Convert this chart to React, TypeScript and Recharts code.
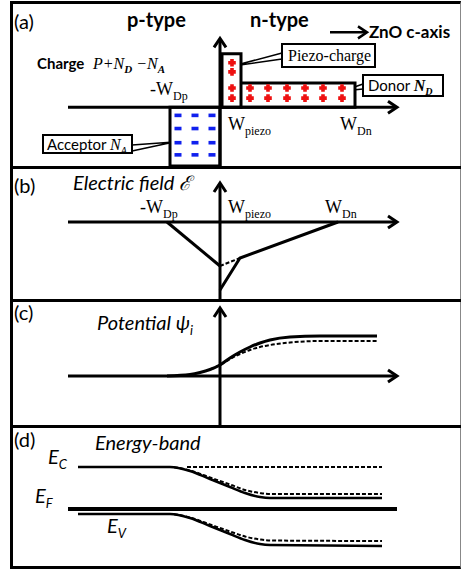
import React from 'react';
import { ComposedChart, XAxis, YAxis, Line, Scatter, ReferenceArea, ReferenceLine } from 'recharts';

const SANS = "Lato, 'Open Sans', sans-serif";
const SERIF = "'Liberation Serif', 'Times New Roman', serif";

// shared horizontal position scale (diagram units, x = 0 at the junction)
const X_DOMAIN: [number, number] = [-21, 24];
const AXIS_START = -15.2;
const AXIS_END = 17.7;

// (a) charge blocks: [x1, x2, y1, y2]
const acceptorBlock = [-5.0, 0, -5.8, 0];
const donorBlock = [0.2, 13.5, 0, 2.4];
const piezoBlock = [0.2, 2.1, 0, 5.3];
const donorDotX = [1.2, 3.0, 4.8, 6.7, 8.5, 10.3, 12.2];
const donorDotY = [1.9, 0.9];
const piezoDotX = [1.2];
const piezoDotY = [4.4, 3.5];
const acceptorDashX = [-4.2, -2.5, -0.8];
const acceptorDashY = [-0.8, -2.1, -3.5, -4.7];

// (b) electric field
const fieldP = [{ x: -5.3, y: 0 }, { x: 0, y: -4.4 }];
const fieldN = [{ x: 0, y: -6.8 }, { x: 2.0, y: -3.6 }, { x: 11.8, y: 0 }];
const fieldNoPiezo = [{ x: 0, y: -4.4 }, { x: 2.0, y: -3.6 }];

// (c) potential
const potX = [-5.3, -3, -2, -1, 0, 1, 2, 3, 4, 5, 7, 10, 15.7];
const potSolid = [0, 0.15, 0.35, 0.65, 1.1, 1.8, 2.4, 2.9, 3.3, 3.6, 3.9, 4.0, 4.0];
const potDashed = [0, 0.15, 0.35, 0.65, 1.1, 1.7, 2.2, 2.6, 2.9, 3.1, 3.35, 3.5, 3.5];

// (d) energy bands
const bandX = [-14.2, -5.0, -3.0, -1.0, 1.0, 2.5, 4.0, 5.0, 16.2];
const ecSolid = [4.2, 4.2, 3.8, 3.0, 2.2, 1.6, 1.2, 1.1, 1.1];
const ecDashed = [4.2, 4.2, 3.85, 3.15, 2.45, 1.9, 1.6, 1.5, 1.5];
const evSolid = [-0.5, -0.5, -0.9, -1.7, -2.5, -3.1, -3.5, -3.6, -3.7];
const evDashed = [-0.5, -0.5, -0.85, -1.55, -2.25, -2.75, -3.05, -3.15, -3.2];
const ecFlatX = [-3.3, 16.2];

const pairs = (xs: number[], ys: number[]) => xs.map((x, i) => ({ x, y: ys[i] }));
const grid = (xs: number[], ys: number[]) => xs.flatMap((x) => ys.map((y) => ({ x, y })));

function arrowShape(props: any) {
  const { x1, y1, x2, y2 } = props;
  const w = Number(props.strokeWidth) || 3;
  const len = Math.hypot(x2 - x1, y2 - y1) || 1;
  const ux = (x2 - x1) / len;
  const uy = (y2 - y1) / len;
  const L = 9;
  const W = 6;
  const bx = x2 - ux * L;
  const by = y2 - uy * L;
  const pts = `${bx - uy * W},${by + ux * W} ${x2},${y2} ${bx + uy * W},${by - ux * W}`;
  return (
    <g>
      <line x1={x1} y1={y1} x2={x2 - ux * 2} y2={y2 - uy * 2} stroke="#000" strokeWidth={w} />
      <polyline points={pts} fill="none" stroke="#000" strokeWidth={w} />
    </g>
  );
}

const redDot = (p: any) => (
  <path
    d={`M${p.cx - 1.8},${p.cy - 3.8}h3.6v2h2v3.6h-2v2h-3.6v-2h-2v-3.6h2z`}
    fill="#ee1111"
  />
);
const blueDash = (p: any) => <rect x={p.cx - 3.5} y={p.cy - 1.8} width={7} height={3.6} fill="#1020ee" />;

function Panel({ top, height, yDomain, children }: { top: number; height: number; yDomain: [number, number]; children: React.ReactNode }) {
  return (
    <div style={{ position: 'absolute', left: 10, top }}>
      <ComposedChart width={450} height={height} margin={{ top: 0, right: 0, bottom: 0, left: 0 }}>
        <XAxis type="number" dataKey="x" domain={X_DOMAIN} hide allowDataOverflow />
        <YAxis type="number" dataKey="y" domain={yDomain} hide allowDataOverflow />
        {children}
      </ComposedChart>
    </div>
  );
}

const box = (b: number[]) => (
  <ReferenceArea x1={b[0]} x2={b[1]} y1={b[2]} y2={b[3]} fill="#fff" fillOpacity={1} stroke="#000" strokeWidth={3} />
);

const axisArrow = (from: { x: number; y: number }, to: { x: number; y: number }, w = 3) => (
  <ReferenceLine segment={[from, to]} shape={arrowShape} stroke="#000" strokeWidth={w} />
);

const solid = { stroke: '#000', strokeWidth: 3, dot: false, isAnimationActive: false, activeDot: false } as const;
const dashed = { stroke: '#000', strokeWidth: 2, strokeDasharray: '4 2', dot: false, isAnimationActive: false, activeDot: false } as const;

function SubText({ x, y, main, sub, size = 18, subSize = 12, family = SERIF, italic = false }: any) {
  return (
    <text x={x} y={y} fontFamily={family} fontSize={size} fontStyle={italic ? 'italic' : 'normal'} fill="#000">
      {main}
      <tspan dy={5} fontSize={subSize}>{sub}</tspan>
    </text>
  );
}

export default function App() {
  return (
    <div style={{ position: 'absolute', left: 0, top: 0, width: 462, height: 571, background: '#fff' }}>
      {/* (a) charge */}
      <Panel top={2} height={165} yDomain={[-5.9, 10.4]}>
        {box(acceptorBlock)}
        {box(donorBlock)}
        {box(piezoBlock)}
        <Scatter data={grid(donorDotX, donorDotY)} shape={redDot} isAnimationActive={false} />
        <Scatter data={grid(piezoDotX, piezoDotY)} shape={redDot} isAnimationActive={false} />
        <Scatter data={grid(acceptorDashX, acceptorDashY)} shape={blueDash} isAnimationActive={false} />
        {axisArrow({ x: AXIS_START, y: 0 }, { x: AXIS_END, y: 0 })}
        {axisArrow({ x: 0, y: -5.9 }, { x: 0, y: 6.8 })}
        {axisArrow({ x: 11.0, y: 7.4 }, { x: 14.7, y: 7.4 }, 2.5)}
        <text x={4} y={27} fontFamily={SANS} fontSize={20}>(a)</text>
        <text x={117} y={25} fontFamily={SANS} fontSize={20} fontWeight="bold">p-type</text>
        <text x={240} y={25} fontFamily={SANS} fontSize={20} fontWeight="bold">n-type</text>
        <text x={359} y={36} fontFamily={SANS} fontSize={17} fontWeight="bold">ZnO c-axis</text>
        <text x={27} y={67} fontFamily={SANS} fontSize={15} fontWeight="bold">Charge</text>
        <text x={83} y={67} fontFamily={SERIF} fontSize={16} fontStyle="italic">
          P+N<tspan dy={4} fontSize={11} fontWeight="bold">D</tspan>
          <tspan dy={-4}> −N</tspan>
          <tspan dy={4} fontSize={11} fontWeight="bold">A</tspan>
        </text>
        <SubText x={140} y={93} main="-W" sub="Dp" />
        <SubText x={218} y={128} main="W" sub="piezo" />
        <SubText x={330} y={128} main="W" sub="Dn" />
        {/* callouts */}
        <polyline points="272,51 223,64 272,57" fill="#fff" stroke="#000" strokeWidth={1.5} />
        <rect x={272} y={42} width={93} height={23} fill="#fff" stroke="#000" strokeWidth={2} />
        <text x={278} y={59} fontFamily={SERIF} fontSize={16}>Piezo-charge</text>
        <polyline points="353,82 333,89 353,87" fill="#fff" stroke="#000" strokeWidth={1.5} />
        <rect x={353} y={73} width={80} height={21} fill="#fff" stroke="#000" strokeWidth={2} />
        <text x={358} y={89} fontFamily={SANS} fontSize={15}>
          Donor <tspan fontFamily={SERIF} fontStyle="italic" fontWeight="bold" fontSize={16}>N</tspan>
          <tspan fontFamily={SERIF} fontStyle="italic" fontWeight="bold" fontSize={10} dy={4}>D</tspan>
        </text>
        <polyline points="122,143 164,140 122,149" fill="#fff" stroke="#000" strokeWidth={1.5} />
        <rect x={33} y={133} width={89} height={18} fill="#fff" stroke="#000" strokeWidth={2} />
        <text x={37} y={148} fontFamily={SANS} fontSize={15}>
          Acceptor <tspan fontFamily={SERIF} fontStyle="italic" fontSize={16}>N</tspan>
          <tspan fontFamily={SERIF} fontStyle="italic" fontSize={10} dy={4}>A</tspan>
        </text>
      </Panel>

      {/* (b) electric field */}
      <Panel top={167} height={133} yDomain={[-7.8, 5.5]}>
        {axisArrow({ x: AXIS_START, y: 0 }, { x: AXIS_END, y: 0 })}
        {axisArrow({ x: 0, y: -7.8 }, { x: 0, y: 3.9 })}
        <Line data={fieldP} dataKey="y" {...solid} />
        <Line data={fieldN} dataKey="y" {...solid} />
        <Line data={fieldNoPiezo} dataKey="y" {...dashed} />
        <text x={4} y={26} fontFamily={SANS} fontSize={20}>(b)</text>
        <text x={63} y={23} fontFamily={SANS} fontSize={20} fontStyle="italic">Electric field ℰ</text>
        <SubText x={130} y={46} main="-W" sub="Dp" />
        <SubText x={218} y={46} main="W" sub="piezo" />
        <SubText x={315} y={46} main="W" sub="Dn" />
      </Panel>

      {/* (c) potential */}
      <Panel top={300} height={126} yDomain={[-5.0, 7.6]}>
        {axisArrow({ x: AXIS_START, y: 0 }, { x: AXIS_END, y: 0 })}
        {axisArrow({ x: 0, y: -5.0 }, { x: 0, y: 6.8 })}
        <Line data={pairs(potX, potDashed).slice(3)} dataKey="y" type="monotone" {...dashed} />
        <Line data={pairs(potX, potSolid)} dataKey="y" type="monotone" {...solid} />
        <text x={4} y={20} fontFamily={SANS} fontSize={20}>(c)</text>
        <SubText x={87} y={30} main="Potential ψ" sub="i" size={20} subSize={13} family={SANS} italic />
      </Panel>

      {/* (d) energy band */}
      <Panel top={426} height={142} yDomain={[-5.9, 8.3]}>
        <ReferenceLine segment={[{ x: AXIS_START, y: 0 }, { x: AXIS_END, y: 0 }]} stroke="#000" strokeWidth={4} />
        <Line data={ecFlatX.map((x) => ({ x, y: ecSolid[0] }))} dataKey="y" {...dashed} />
        <Line data={pairs(bandX, ecDashed)} dataKey="y" type="monotone" {...dashed} />
        <Line data={pairs(bandX, evDashed)} dataKey="y" type="monotone" {...dashed} />
        <Line data={pairs(bandX, ecSolid)} dataKey="y" type="monotone" {...solid} strokeWidth={2.5} />
        <Line data={pairs(bandX, evSolid)} dataKey="y" type="monotone" {...solid} strokeWidth={2.5} />
        <text x={4} y={21} fontFamily={SANS} fontSize={20}>(d)</text>
        <text x={85} y={24} fontFamily={SANS} fontSize={20} fontStyle="italic">Energy-band</text>
        <SubText x={38} y={38} main="E" sub="C" size={20} subSize={13} family={SANS} italic />
        <SubText x={25} y={77} main="E" sub="F" size={20} subSize={13} family={SANS} italic />
        <SubText x={97} y={107} main="E" sub="V" size={20} subSize={13} family={SANS} italic />
      </Panel>

      {/* frame and panel dividers */}
      <div style={{ position: 'absolute', left: 10, top: 1, width: 451, height: 568, boxSizing: 'border-box', borderLeft: '3px solid #000', borderTop: '3px solid #000', borderBottom: '3px solid #000', borderRight: '1px solid #888' }} />
      {[166, 299, 425].map((y) => (
        <div key={y} style={{ position: 'absolute', left: 10, top: y, width: 451, height: 3, background: '#000' }} />
      ))}
    </div>
  );
}
